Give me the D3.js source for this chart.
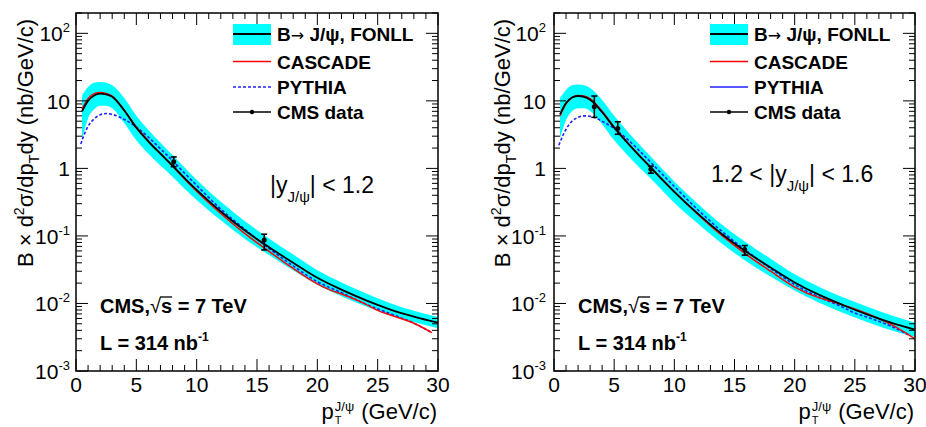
<!DOCTYPE html>
<html><head><meta charset="utf-8">
<script src="https://cdn.jsdelivr.net/npm/d3@7"></script>
<style>html,body{margin:0;padding:0;background:#fff;}svg{display:block;font-family:"Liberation Sans",Arial,Helvetica,sans-serif;}</style>
</head><body>
<svg id="c" width="926" height="427"></svg>
<script>
// ---------------- data ----------------
const xTicks = [0, 5, 10, 15, 20, 25, 30];
const yTickExp = [-3, -2, -1, 0, 1, 2];
const legendLabels = ["B\u2192 J/\u03c8, FONLL", "CASCADE", "PYTHIA", "CMS data"];

const ptFonll = [0.5,1,1.5,2,2.5,3,4,5,6,7,8,9,10,12,14,16,18,20,22,24,26,28,30];
const leftFonll   = [7.0,10.0,12.0,12.8,12.5,11.5,7.2,4.0,2.5,1.65,1.1,0.72,0.48,0.23,0.12,0.068,0.04,0.024,0.016,0.0112,0.0082,0.0064,0.0052];
const leftFonllHi = [12,16,18.5,19,18.5,17,11,6.0,3.7,2.4,1.58,1.03,0.68,0.32,0.165,0.092,0.053,0.031,0.0205,0.0142,0.0102,0.0078,0.0063];
const leftFonllLo = [2.6,5.5,7.5,8.5,8.5,7.8,4.7,2.6,1.65,1.1,0.75,0.5,0.34,0.17,0.09,0.052,0.031,0.019,0.0128,0.0091,0.0067,0.0053,0.0043];
const leftCascPt  = [0.5,1,1.5,2,2.5,3,4,5,6,7,8,9,10,12,14,16,18,20,21,22,24,25,26,28,29.5];
const leftCasc    = [7.5,10.8,12.8,13.3,12.9,11.8,7.3,4.1,2.55,1.65,1.08,0.7,0.46,0.215,0.108,0.059,0.033,0.0195,0.016,0.0138,0.0098,0.0079,0.0068,0.0051,0.0037];
const leftPythPt  = [0.4,0.75,1,1.5,2,2.5,3,4,5,6,7,8,9,10,12,14,16,18,20,22,24,26,28,29.5];
const leftPyth    = [2.3,3.4,4.2,5.4,6.2,6.5,6.3,5.3,4.1,2.9,1.95,1.3,0.85,0.56,0.25,0.125,0.065,0.036,0.021,0.0145,0.0098,0.0071,0.0051,0.0037];
const leftDataPt  = [8.1, 15.6];
const leftData    = [1.25, 0.087];
const leftDataHi  = [1.48, 0.106];
const leftDataLo  = [1.06, 0.062];

const rightFonll   = [6.3,9.3,11.2,11.8,11.5,10.4,6.8,4.0,2.5,1.6,1.05,0.68,0.45,0.21,0.105,0.058,0.034,0.0205,0.0135,0.0095,0.0069,0.0052,0.0041];
const rightFonllHi = [11,14.5,17,17.5,17,15.5,10.3,6.0,3.7,2.35,1.52,0.98,0.64,0.295,0.145,0.079,0.046,0.027,0.0177,0.0124,0.009,0.0067,0.0052];
const rightFonllLo = [2.8,5.2,7.0,7.8,7.8,7.1,4.5,2.6,1.65,1.07,0.72,0.47,0.31,0.15,0.076,0.042,0.025,0.0155,0.0103,0.0073,0.0053,0.004,0.0032];
const rightCascPt  = [0.5,1,1.5,2,2.5,3,4,5,6,7,8,9,10,12,14,16,18,20,22,23,24,26,28,30];
const rightCasc    = [6.0,9.0,11.2,12.0,11.8,10.8,7.0,4.1,2.55,1.62,1.05,0.68,0.45,0.205,0.1,0.053,0.03,0.0175,0.0122,0.0108,0.0095,0.0071,0.0049,0.003];
const rightPythPt  = [0.4,0.75,1,1.5,2,2.5,3,4,5,6,7,8,9,10,12,14,16,18,20,22,24,25,26,28,29.5];
const rightPyth    = [2.2,3.1,3.8,5.0,5.7,6.0,5.9,5.0,3.9,2.8,1.9,1.25,0.82,0.54,0.24,0.115,0.06,0.033,0.019,0.0125,0.0088,0.0072,0.0063,0.0046,0.0034];
const rightDataPt  = [3.35, 5.3, 8.05, 15.85];
const rightData    = [8.2, 3.9, 0.97, 0.063];
const rightDataHi  = [11.8, 4.9, 1.08, 0.072];
const rightDataLo  = [5.7, 3.2, 0.85, 0.052];

// ---------------- drawing ----------------
const svg = d3.select("#c");

function rich(g, x, y, parts, opt) {
  opt = opt || {};
  const t = g.append("text").attr("x", x).attr("y", y)
    .attr("text-anchor", opt.anchor || "start")
    .attr("font-weight", opt.weight || "normal")
    .attr("fill", "#000");
  if (opt.transform) t.attr("transform", opt.transform);
  let cur = 0;
  parts.forEach(p => {
    const sh = p.sh || 0;
    const ts = t.append("tspan").text(p.t).attr("font-size", p.s).attr("dy", cur - sh);
    if (p.dx) ts.attr("dx", p.dx);
    cur = sh;
  });
  return t;
}

const panels = [
  {x0: 76, x1: 438, fonll: leftFonll, hi: leftFonllHi, lo: leftFonllLo,
   cascPt: leftCascPt, casc: leftCasc, pythPt: leftPythPt, pyth: leftPyth,
   dPt: leftDataPt, d: leftData, dHi: leftDataHi, dLo: leftDataLo,
   labGap: 6, titleX: 33, legX: 233, pythLegDashed: true,
   region: "left"},
  {x0: 554, x1: 915, fonll: rightFonll, hi: rightFonllHi, lo: rightFonllLo,
   cascPt: rightCascPt, casc: rightCasc, pythPt: rightPythPt, pyth: rightPyth,
   dPt: rightDataPt, d: rightData, dHi: rightDataHi, dLo: rightDataLo,
   labGap: 8, titleX: 510, legX: 710, pythLegDashed: false,
   region: "right"}
];

const yTop = 13, yBot = 371;

panels.forEach(P => {
  const g = svg.append("g");
  const x = d3.scaleLinear().domain([0, 30]).range([P.x0, P.x1]);
  const y = d3.scaleLog().domain([1e-3, 200]).range([yBot, yTop]);

  const clipId = "clip-" + P.region;
  svg.append("clipPath").attr("id", clipId).append("rect")
    .attr("x", P.x0).attr("y", yTop).attr("width", P.x1 - P.x0).attr("height", yBot - yTop);
  const plot = g.append("g").attr("clip-path", `url(#${clipId})`);

  // band
  const area = d3.area().x((d, i) => x(ptFonll[i])).y0((d, i) => y(P.lo[i])).y1((d, i) => y(P.hi[i]))
    .curve(d3.curveMonotoneX);
  plot.append("path").datum(P.fonll).attr("d", area).attr("fill", "#00ffff").attr("stroke", "none");

  const line = (pts) => d3.line().x((d, i) => x(pts[i])).y(d => y(d)).curve(d3.curveMonotoneX);
  plot.append("path").datum(P.pyth).attr("d", line(P.pythPt)).attr("fill", "none")
    .attr("stroke", "#2020ff").attr("stroke-width", 1.6).attr("stroke-dasharray", "3,2");
  plot.append("path").datum(P.casc).attr("d", line(P.cascPt)).attr("fill", "none")
    .attr("stroke", "#ff0000").attr("stroke-width", 1.5);
  plot.append("path").datum(P.fonll).attr("d", line(ptFonll)).attr("fill", "none")
    .attr("stroke", "#000").attr("stroke-width", 1.8);

  // data
  P.dPt.forEach((pt, i) => {
    const cx = x(pt);
    g.append("line").attr("x1", cx).attr("x2", cx).attr("y1", y(P.dHi[i])).attr("y2", y(P.dLo[i]))
      .attr("stroke", "#000").attr("stroke-width", 1.6);
    [P.dHi[i], P.dLo[i]].forEach(v => g.append("line").attr("x1", cx - 3).attr("x2", cx + 3)
      .attr("y1", y(v)).attr("y2", y(v)).attr("stroke", "#000").attr("stroke-width", 1.6));
    g.append("circle").attr("cx", cx).attr("cy", y(P.d[i])).attr("r", 2.5).attr("fill", "#000");
  });

  // frame
  g.append("rect").attr("x", P.x0).attr("y", yTop).attr("width", P.x1 - P.x0).attr("height", yBot - yTop)
    .attr("fill", "none").attr("stroke", "#000").attr("stroke-width", 1.5);

  // x ticks
  const tk = g.append("g").attr("stroke", "#000").attr("stroke-width", 1);
  d3.range(0, 31, 1).forEach(v => {
    const L = (v % 5 === 0) ? 12 : 6;
    const px = x(v);
    tk.append("line").attr("x1", px).attr("x2", px).attr("y1", yBot).attr("y2", yBot - L);
    tk.append("line").attr("x1", px).attr("x2", px).attr("y1", yTop).attr("y2", yTop + L);
  });
  xTicks.forEach(v => {
    g.append("text").attr("x", x(v)).attr("y", yBot + 21).attr("text-anchor", "middle")
      .attr("font-size", 21).text(v);
  });
  // y ticks
  yTickExp.forEach(k => {
    for (let m = 1; m <= 9; m++) {
      const v = m * Math.pow(10, k);
      if (v < 1e-3 || v > 200) continue;
      const L = m === 1 ? 12 : 6;
      const py = y(v);
      tk.append("line").attr("x1", P.x0).attr("x2", P.x0 + L).attr("y1", py).attr("y2", py);
      tk.append("line").attr("x1", P.x1).attr("x2", P.x1 - L).attr("y1", py).attr("y2", py);
    }
    const py = y(Math.pow(10, k)) + 8;
    const lx = P.x0 - P.labGap;
    if (k === 0) rich(g, lx, py, [{t: "1", s: 21}], {anchor: "end"});
    else if (k === 1) rich(g, lx, py, [{t: "10", s: 21}], {anchor: "end"});
    else rich(g, lx, py, [{t: "10", s: 21}, {t: String(k), s: 13, sh: 9}], {anchor: "end"});
  });

  // y title
  rich(g, P.titleX, 143, [
    {t: "B \u00d7 d", s: 22}, {t: "2", s: 14, sh: 9}, {t: "\u03c3/dp", s: 22},
    {t: "T", s: 14, sh: -6}, {t: "dy (nb/GeV/c)", s: 22}
  ], {anchor: "middle", transform: `rotate(-90,${P.titleX},143)`});

  // x title
  const xt = g.append("text").attr("x", P.x1 - 1).attr("y", 419).attr("text-anchor", "end")
    .attr("font-size", 22).text("(GeV/c)");
  const wGev = xt.node().getComputedTextLength();
  const supT = g.append("text").attr("x", P.x1 - 1 - wGev - 7).attr("y", 411).attr("text-anchor", "end")
    .attr("font-size", 13).text("J/\u03c8");
  const wSup = supT.node().getComputedTextLength();
  const pX = P.x1 - 1 - wGev - 7 - wSup - 1;
  g.append("text").attr("x", pX).attr("y", 419).attr("text-anchor", "end").attr("font-size", 22).text("p");
  g.append("text").attr("x", pX + 1).attr("y", 424).attr("text-anchor", "start").attr("font-size", 11).text("T");

  // legend
  const lx = P.legX, rows = [34, 61.5, 87, 112];
  g.append("rect").attr("x", lx).attr("y", 24).attr("width", 38).attr("height", 21).attr("fill", "#00ffff");
  g.append("line").attr("x1", lx).attr("x2", lx + 38).attr("y1", rows[0]).attr("y2", rows[0]).attr("stroke", "#000").attr("stroke-width", 1.8);
  g.append("line").attr("x1", lx).attr("x2", lx + 38).attr("y1", rows[1]).attr("y2", rows[1]).attr("stroke", "#ff0000").attr("stroke-width", 1.5);
  const pl = g.append("line").attr("x1", lx).attr("x2", lx + 38).attr("y1", rows[2]).attr("y2", rows[2]).attr("stroke", "#2020ff").attr("stroke-width", 1.6);
  if (P.pythLegDashed) pl.attr("stroke-dasharray", "3,2");
  g.append("line").attr("x1", lx).attr("x2", lx + 38).attr("y1", rows[3]).attr("y2", rows[3]).attr("stroke", "#000").attr("stroke-width", 1.6);
  g.append("circle").attr("cx", lx + 19).attr("cy", rows[3]).attr("r", 2.2).attr("fill", "#000");
  legendLabels.forEach((lab, i) => {
    const t = g.append("text").attr("x", lx + 44).attr("y", rows[i] + 7).attr("font-size", 19)
      .attr("font-weight", "bold");
    const ai = lab.indexOf("\u2192");
    if (ai >= 0) {
      t.append("tspan").text(lab.slice(0, ai));
      t.append("tspan").text("\u2192").attr("font-family", '"DejaVu Sans",sans-serif')
        .attr("font-weight", "normal").attr("font-size", 16);
      t.append("tspan").text(lab.slice(ai + 1));
    } else t.text(lab);
  });

  // annotations
  if (P.region === "left") {
    rich(g, 270, 193, [{t: "|y", s: 23}, {t: "J/\u03c8", s: 15, sh: -9}, {t: "| < 1.2", s: 23}]);
  } else {
    rich(g, 711, 182, [{t: "1.2 < |y", s: 23}, {t: "J/\u03c8", s: 15, sh: -9}, {t: "| < 1.6", s: 23}]);
  }
  const ax = P.x0 + 24;
  const cms = g.append("text").attr("x", ax).attr("y", 313).attr("font-size", 20).attr("font-weight", "bold");
  cms.append("tspan").text("CMS,");
  cms.append("tspan").text("\u221a").attr("font-weight", "normal");
  const sSpan = cms.append("tspan").text("s");
  cms.append("tspan").text(" = 7 TeV");
  const nS = sSpan.node();
  const startS = nS.getStartPositionOfChar(0), endS = nS.getEndPositionOfChar(0);
  g.append("line").attr("x1", startS.x - 1).attr("x2", endS.x).attr("y1", 297).attr("y2", 297)
    .attr("stroke", "#000").attr("stroke-width", 1.3);
  rich(g, ax, 350, [{t: "L = 314 nb", s: 20}, {t: "-1", s: 12, sh: 9}], {weight: "bold"});
});
</script>
</body></html>
